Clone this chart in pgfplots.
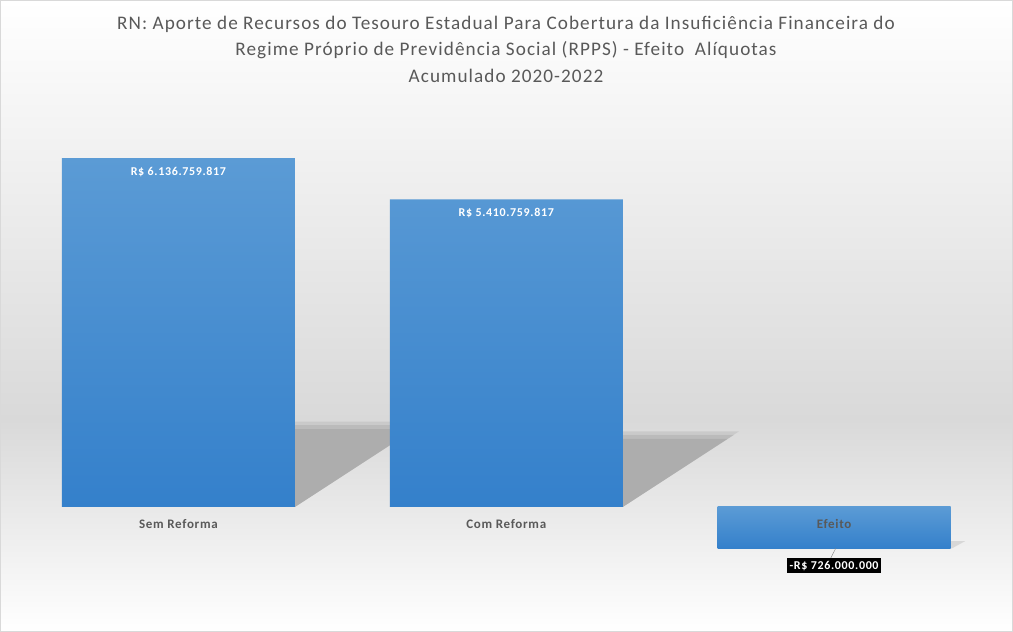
\documentclass[border=0pt]{standalone}
\usepackage{fontspec}
\setmainfont{Carlito}[LetterSpace=5.5]
\usepackage{pgfplots}
\pgfplotsset{compat=1.18}
\definecolor{txtgray}{HTML}{595959}
\definecolor{bgmid}{HTML}{D9D9D9}
\definecolor{bartop}{HTML}{5B9BD5}
\definecolor{barbot}{HTML}{3480CB}
\definecolor{shadowc}{HTML}{ADADAD}
\begin{document}
\begin{tikzpicture}[x=1pt,y=1pt]
\useasboundingbox (0,0) rectangle (1013,632);
\shade[top color=white, bottom color=bgmid] (0,212) rectangle (1013,632);
\shade[top color=bgmid, bottom color=white] (0,0) rectangle (1013,212);
\draw[bgmid, line width=1pt] (0.5,0.5) rectangle (1012.5,631.5);
\node[text=txtgray, font=\fontsize{19.2}{26.5}\selectfont, align=center] at (506,583)
  {RN: Aporte de Recursos do Tesouro Estadual Para Cobertura da Insuficiência Financeira do\\
   Regime Próprio de Previdência Social (RPPS) - Efeito\ \ Alíquotas\\
   Acumulado 2020-2022};
\begin{axis}[
  at={(14.5pt,72pt)}, anchor=south west,
  scale only axis, width=983.5pt, height=460pt,
  xmin=-0.5, xmax=2.5, ymin=-0.932e9, ymax=7.157e9,
  axis x line=middle, axis y line=none,
  x axis line style={draw=none},
  xtick={0,1,2}, xticklabels={Sem Reforma, Com Reforma, Efeito},
  major tick length=0pt, ytick=\empty,
  xticklabel style={anchor=center, yshift=-17pt, text=txtgray, font=\fontsize{13}{15}\selectfont\bfseries},
  axis on top,
  clip=false,
]
% decorative floor shadows (soft edge + core)
\fill[shadowc, opacity=0.35] (axis cs:-0.355,0) -- (axis cs:0.355,0) -- (axis cs:0.755,1.50e9) -- (axis cs:0.02,1.50e9) -- cycle;
\fill[shadowc, opacity=0.5] (axis cs:-0.355,0) -- (axis cs:0.355,0) -- (axis cs:0.74,1.44e9) -- (axis cs:0.02,1.44e9) -- cycle;
\fill[shadowc] (axis cs:-0.355,0) -- (axis cs:0.355,0) -- (axis cs:0.72,1.37e9) -- (axis cs:0.02,1.37e9) -- cycle;
\fill[shadowc, opacity=0.35] (axis cs:0.645,0) -- (axis cs:1.355,0) -- (axis cs:1.71,1.33e9) -- (axis cs:0.975,1.33e9) -- cycle;
\fill[shadowc, opacity=0.5] (axis cs:0.645,0) -- (axis cs:1.355,0) -- (axis cs:1.695,1.27e9) -- (axis cs:0.975,1.27e9) -- cycle;
\fill[shadowc] (axis cs:0.645,0) -- (axis cs:1.355,0) -- (axis cs:1.675,1.20e9) -- (axis cs:0.975,1.20e9) -- cycle;
\fill[shadowc, opacity=0.35] (axis cs:1.65,-0.60e9) -- (axis cs:2.40,-0.60e9) -- (axis cs:2.36,-0.726e9) -- (axis cs:1.65,-0.726e9) -- cycle;
\addplot[ybar, bar width=233pt, bar shift=0pt, draw=none, top color=bartop, bottom color=barbot,
  point meta=explicit symbolic, nodes near coords,
  nodes near coords style={anchor=center, yshift=-14pt, text=white, font=\fontsize{12}{14}\selectfont\bfseries}]
  coordinates {(0,6136759817) [R\$ 6.136.759.817] (1,5410759817) [R\$ 5.410.759.817]};
\addplot[ybar, bar width=233pt, bar shift=0pt, draw=none, top color=bartop, bottom color=barbot,
  point meta=explicit symbolic, nodes near coords,
  nodes near coords style={anchor=north, yshift=-10pt, fill=black, text=white, inner sep=2.5pt, font=\fontsize{12}{14}\selectfont\bfseries}]
  coordinates {(2,-726000000) [-R\$ 726.000.000]};
\draw[gray] (axis cs:2.005,-726000000) -- (axis cs:1.99,-0.897e9);
\end{axis}
\end{tikzpicture}
\end{document}
